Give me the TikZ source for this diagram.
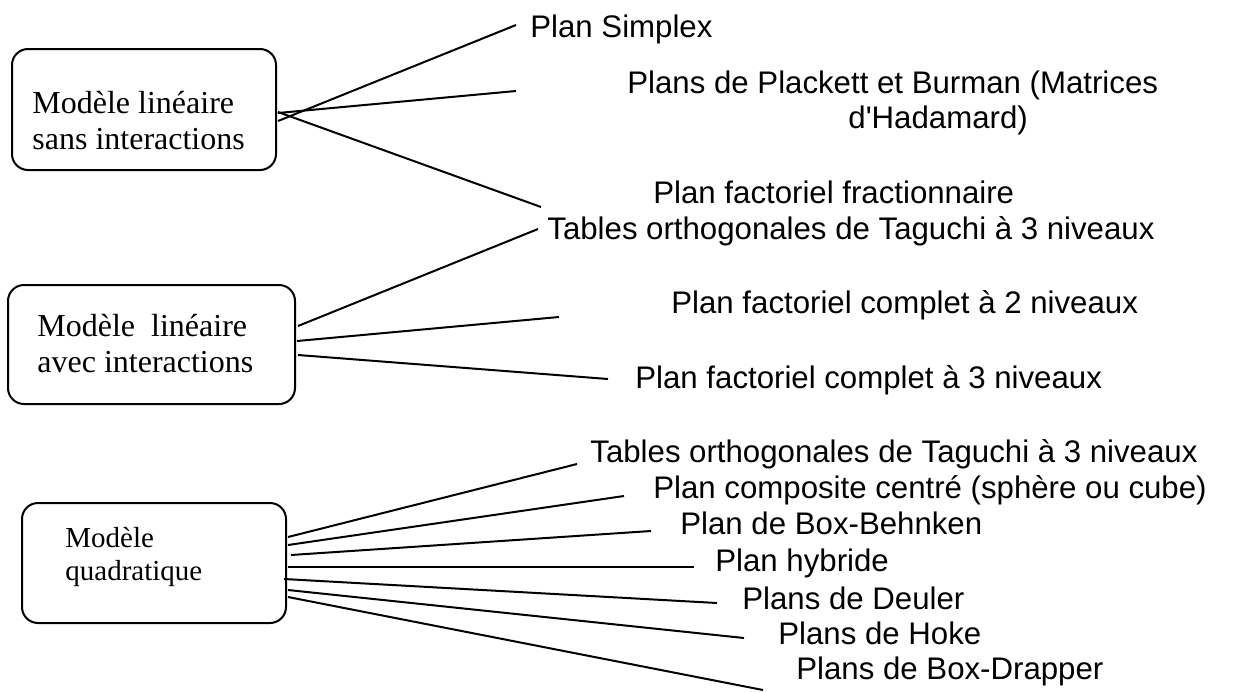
\documentclass[tikz,border=0pt]{standalone}
\usepackage{fontspec}
\setmainfont{Liberation Serif}
\newfontfamily\planfont{Liberation Sans}

\begin{document}
\begin{tikzpicture}[x=0.5pt, y=-0.5pt,
    modelbox/.style={draw, line width=1pt, rounded corners=8pt, inner sep=0pt},
    modeltext/.style={font=\fontsize{16}{18}\selectfont, align=left, inner sep=0pt, anchor=base west},
    plan/.style={font=\planfont\fontsize{15.6}{17.5}\selectfont, align=left, inner sep=0pt, anchor=base west},
    branch/.style={line width=1pt}]
  \useasboundingbox (0,0) rectangle (1235,691);

  % Les trois modeles
  \node[modelbox, minimum width=132pt, minimum height=60.5pt] (lin) at (144,109.5) {};
  \node[modelbox, minimum width=143.5pt, minimum height=59.5pt] (inter) at (151.5,344.5) {};
  \node[modelbox, minimum width=132pt, minimum height=60pt] (quad) at (154,563) {};
  \node[modeltext] (lintxt) at (32,149) {Modèle linéaire\\sans interactions};
  \node[modeltext] (intertxt) at (37,372) {Modèle\ \ linéaire\\avec interactions};
  \node[modeltext, font=\fontsize{14.5}{16.5}\selectfont] (quadtxt) at (65,580) {Modèle\\quadratique};

  % Les plans
  \node[plan] (simplex) at (530,37) {Plan Simplex};
  \node[plan] (plackett) at (627,128) {Plans de Plackett et Burman (Matrices\\\hspace*{110.5pt}d'Hadamard)};
  \node[plan] (fraction) at (653,203) {Plan factoriel fractionnaire};
  \node[plan] (taguchiA) at (547,239) {Tables orthogonales de Taguchi à 3 niveaux};
  \node[plan] (complet2) at (671,313) {Plan factoriel complet à 2 niveaux};
  \node[plan] (complet3) at (635,388) {Plan factoriel complet à 3 niveaux};
  \node[plan] (taguchiB) at (590,462) {Tables orthogonales de Taguchi à 3 niveaux};
  \node[plan] (composite) at (653,498) {Plan composite centré (sphère ou cube)};
  \node[plan] (behnken) at (680,534) {Plan de Box-Behnken};
  \node[plan] (hybride) at (715,571) {Plan hybride};
  \node[plan] (deuler) at (742,609) {Plans de Deuler};
  \node[plan] (hoke) at (778,644) {Plans de Hoke};
  \node[plan] (drapper) at (796,679) {Plans de Box-Drapper};

  % Bouts libres des traits
  \coordinate (simplex-e) at (516,25);
  \coordinate (plackett-e) at (516,91);
  \coordinate (fraction-e) at (541,207);
  \coordinate (taguchiA-e) at (538,229);
  \coordinate (complet2-e) at (559,317);
  \coordinate (complet3-e) at (608,379);
  \coordinate (taguchiB-e) at (577,464);
  \coordinate (composite-e) at (624,496);
  \coordinate (behnken-e) at (651,531);
  \coordinate (hybride-e) at (694,567);
  \coordinate (deuler-e) at (717,603);
  \coordinate (hoke-e) at (744,638);
  \coordinate (drapper-e) at (763,690);

  % Traits
  \draw[branch] ([xshift=0.5pt, yshift=-5.75pt]lin.east) -- (simplex-e);
  \draw[branch] ([xshift=0.5pt, yshift=-1.75pt]lin.east) -- (plackett-e);
  \draw[branch] ([xshift=0.5pt, yshift=-1.25pt]lin.east) -- (fraction-e);
  \draw[branch] ([xshift=1pt, yshift=9.25pt]inter.east) -- (taguchiA-e);
  \draw[branch] ([xshift=0.5pt, yshift=1.75pt]inter.east) -- (complet2-e);
  \draw[branch] ([xshift=1pt, yshift=-5.25pt]inter.east) -- (complet3-e);
  \draw[branch] ([xshift=0.5pt, yshift=13pt]quad.east) -- (taguchiB-e);
  \draw[branch] ([xshift=0.5pt, yshift=9pt]quad.east) -- (composite-e);
  \draw[branch] ([xshift=2pt, yshift=4pt]quad.east) -- (behnken-e);
  \draw[branch] ([xshift=0.5pt, yshift=-2pt]quad.east) -- (hybride-e);
  \draw[branch] ([xshift=-1.5pt, yshift=-8pt]quad.east) -- (deuler-e);
  \draw[branch] ([xshift=0.5pt, yshift=-13.5pt]quad.east) -- (hoke-e);
  \draw[branch] ([xshift=0.5pt, yshift=-17pt]quad.east) -- (drapper-e);
\end{tikzpicture}
\end{document}
